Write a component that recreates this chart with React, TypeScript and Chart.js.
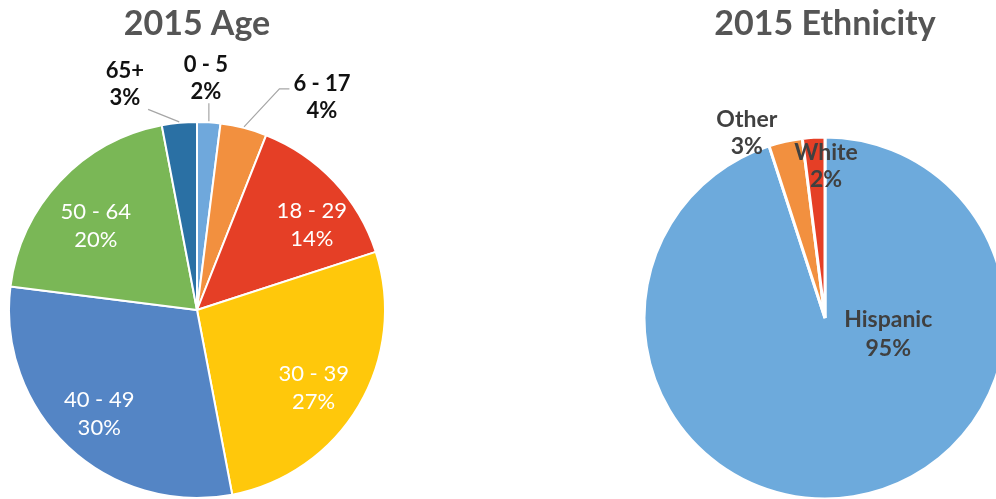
import React, { useEffect, useRef } from "react";
import { Chart, registerables } from "chart.js";

Chart.register(...registerables);

// ---- Data ----
const ageTitle = "2015 Age";
const ageCategories = ["0 - 5", "6 - 17", "18 - 29", "30 - 39", "40 - 49", "50 - 64", "65+"];
const ageValues = [2, 4, 14, 27, 30, 20, 3];

const ethnicityTitle = "2015 Ethnicity";
const ethnicityCategories = ["Hispanic", "Other", "White"];
const ethnicityValues = [95, 3, 2];

// ---- Styles ----
const ageColors = ["#6FA8DC", "#F2903F", "#E53F26", "#FFC80B", "#5485C5", "#7AB756", "#2A70A4"];
const ethnicityColors = ["#6DAADC", "#F2903F", "#E53F26"];

const FONT = "Lato, 'Open Sans', sans-serif";

type LabelStyle = {
  shift: number; // degrees, clockwise from slice mid-angle
  radius: number; // fraction of outer radius
  color: string;
  weight: string;
  size: number;
  lh: number;
  leader?: boolean;
};

const inAge = (shift: number, radius: number): LabelStyle => ({
  shift, radius, color: "#FFFFFF", weight: "normal", size: 22, lh: 28,
});
const outAge = (shift: number, radius: number): LabelStyle => ({
  shift, radius, color: "#111111", weight: "bold", size: 22, lh: 27, leader: true,
});
const eth = (shift: number, radius: number, lh: number): LabelStyle => ({
  shift, radius, color: "#404040", weight: "bold", size: 23, lh,
});

const ageLabelStyles: LabelStyle[] = [
  outAge(-1.4, 1.234),
  outAge(16, 1.314),
  inAge(6.7, 0.76),
  inAge(3, 0.745),
  inAge(0, 0.76),
  inAge(-3.5, 0.7),
  outAge(-12.3, 1.26),
];
const ethnicityLabelStyles: LabelStyle[] = [
  eth(-67, 0.36, 29),
  eth(-10.3, 1.11, 27),
  eth(4, 0.84, 27),
];

const pieLabelPlugin = {
  id: "pieLabels",
  afterDatasetsDraw(chart: any, _args: any, opts: any) {
    const { ctx } = chart;
    const meta = chart.getDatasetMeta(0);
    const data = chart.data.datasets[0].data as number[];
    const labels = chart.data.labels as string[];
    const total = data.reduce((a, b) => a + b, 0);
    const styles: LabelStyle[] = opts.styles || [];
    meta.data.forEach((arc: any, i: number) => {
      const st = styles[i];
      if (!st) return;
      const p = arc.getProps(["x", "y", "startAngle", "endAngle", "outerRadius"], true);
      const realMid = (p.startAngle + p.endAngle) / 2;
      const mid = realMid + (st.shift * Math.PI) / 180;
      const r = p.outerRadius * st.radius;
      const cx = p.x + Math.cos(mid) * r;
      const cy = p.y + Math.sin(mid) * r;
      const lines = [labels[i], Math.round((data[i] / total) * 100) + "%"];
      ctx.save();
      ctx.font = `${st.weight} ${st.size}px ${FONT}`;
      ctx.fillStyle = st.color;
      ctx.textAlign = "center";
      ctx.textBaseline = "middle";
      const w = Math.max(...lines.map((l) => ctx.measureText(l).width));
      const h = st.lh * lines.length;
      lines.forEach((l, k) => ctx.fillText(l, cx, cy - h / 2 + st.lh * (k + 0.5)));
      if (st.leader) {
        const px = p.x + Math.cos(realMid) * (p.outerRadius + 1);
        const py = p.y + Math.sin(realMid) * (p.outerRadius + 1);
        const pad = 4;
        const left = cx - w / 2 - pad;
        const right = cx + w / 2 + pad;
        const top = cy - h / 2 - pad;
        const bottom = cy + h / 2 - 2;
        ctx.strokeStyle = "#A6A6A6";
        ctx.lineWidth = 1.2;
        ctx.beginPath();
        ctx.moveTo(px, py);
        if (left > px) {
          const ay = cy - h * 0.15;
          ctx.lineTo(left - 10, ay);
          ctx.lineTo(left, ay);
        } else {
          const nx = Math.min(Math.max(px, left), right);
          const ny = Math.min(Math.max(py, top), bottom);
          ctx.lineTo(nx, ny);
        }
        ctx.stroke();
      }
      ctx.restore();
    });
  },
};

const titlePlugin = {
  id: "pieTitle",
  afterDraw(chart: any, _args: any, opts: any) {
    const { ctx, chartArea } = chart;
    ctx.save();
    ctx.font = `bold ${opts.size}px ${FONT}`;
    ctx.fillStyle = "#555555";
    ctx.textAlign = "center";
    ctx.textBaseline = "alphabetic";
    ctx.fillText(opts.text, (chartArea.left + chartArea.right) / 2, opts.baseline);
    ctx.restore();
  },
};

type PieProps = {
  labels: string[];
  values: number[];
  colors: string[];
  styles: LabelStyle[];
  title: string;
  width: number;
  height: number;
  left: number;
  padding: { left: number; right: number; top: number; bottom: number };
  radius: number;
  border: number;
};

function PieChart(props: PieProps) {
  const ref = useRef<HTMLCanvasElement | null>(null);
  useEffect(() => {
    if (!ref.current) return;
    const chart = new Chart(ref.current, {
      type: "pie",
      data: {
        labels: props.labels,
        datasets: [
          {
            data: props.values,
            backgroundColor: props.colors,
            borderColor: "#FFFFFF",
            borderWidth: props.border,
          },
        ],
      },
      options: {
        responsive: false,
        animation: false,
        radius: props.radius,
        layout: { padding: props.padding },
        plugins: {
          legend: { display: false },
          tooltip: { enabled: false },
          pieLabels: { styles: props.styles },
          pieTitle: { text: props.title, size: 34, baseline: 35 },
        } as any,
      } as any,
      plugins: [pieLabelPlugin, titlePlugin],
    });
    return () => chart.destroy();
  }, []);
  return (
    <canvas
      ref={ref}
      width={props.width}
      height={props.height}
      style={{ position: "absolute", left: props.left, top: 0, width: props.width, height: props.height }}
    />
  );
}

export default function App() {
  return (
    <div
      style={{
        position: "fixed",
        left: 0,
        top: 0,
        width: 996,
        height: 499,
        overflow: "hidden",
        background: "#FFFFFF",
      }}
    >
      <PieChart
        labels={ageCategories}
        values={ageValues}
        colors={ageColors}
        styles={ageLabelStyles}
        title={ageTitle}
        width={420}
        height={499}
        left={0}
        padding={{ left: 0, right: 26, top: 121, bottom: 0 }}
        radius={188}
        border={2}
      />
      <PieChart
        labels={ethnicityCategories}
        values={ethnicityValues}
        colors={ethnicityColors}
        styles={ethnicityLabelStyles}
        title={ethnicityTitle}
        width={396}
        height={499}
        left={600}
        padding={{ left: 54, right: 0, top: 137, bottom: 0 }}
        radius={181}
        border={3}
      />
    </div>
  );
}
